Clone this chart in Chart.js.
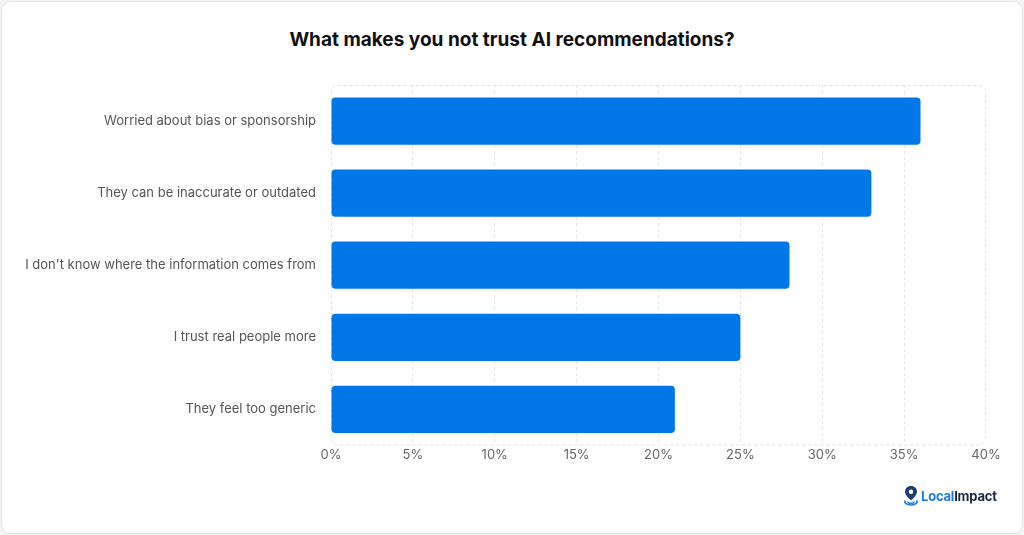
<!DOCTYPE html>
<html>
<head>
<meta charset="utf-8">
<script src="https://cdn.jsdelivr.net/npm/chart.js@4.4.1/dist/chart.umd.min.js"></script>
<style>
  html, body { margin: 0; padding: 0; background: #f4f4f4; }
  .card { position: absolute; left: 1px; top: 1px; width: 1020px; height: 531px; background: #fff; border: 1px solid #e4e4e4; border-radius: 10px; }
  .title { position: absolute; left: 0; top: 28px; width: 1024px; text-align: center; font-family: Inter, "Noto Sans", sans-serif; font-weight: 700; font-size: 19px; color: #111; }
  .wrap { position: absolute; left: 0; top: 0; width: 1024px; height: 535px; }
  .logo { position: absolute; left: 903px; top: 485px; font-family: Inter, "Noto Sans", sans-serif; font-weight: 700; font-size: 13px; letter-spacing: -0.2px; display: flex; align-items: center; }
  .logo .a { color: #1b7ce6; }
  .logo .b { color: #1c2740; }
</style>
</head>
<body>
<div class="card"></div>
<div class="title">What makes you not trust AI recommendations?</div>
<div class="wrap"><canvas id="c" width="1024" height="535"></canvas></div>
<div class="logo">
  <svg width="16" height="22" viewBox="0 0 16 22" style="margin-right:2px">
    <path d="M8 1 C4.3 1 2 3.7 2 6.8 C2 10.5 8 15.5 8 15.5 C8 15.5 14 10.5 14 6.8 C14 3.7 11.7 1 8 1 Z" fill="#1c3d6e"/>
    <circle cx="8" cy="6.8" r="2.2" fill="#fff"/>
    <path d="M2.5 15.5 C1 17 2.5 20 8 20 C13.5 20 15 17 13.5 15.5" fill="none" stroke="#1b7ce6" stroke-width="1.6"/>
    <path d="M5 16.5 C4.5 17.6 6 18.3 8 18.3 C10 18.3 11.5 17.6 11 16.5" fill="none" stroke="#1b7ce6" stroke-width="1.4"/>
  </svg>
  <span class="a">Local</span><span class="b">Impact</span>
</div>
<script>
const categories = [
  'Worried about bias or sponsorship',
  'They can be inaccurate or outdated',
  "I don't know where the information comes from",
  'I trust real people more',
  'They feel too generic'
];
const percentValues = [36, 33, 28, 25, 21];
const axisMax = 40;
const axisStep = 5;

const frameBox = {
  id: 'frameBox',
  beforeDatasetsDraw(chart) {
    const { ctx, chartArea: a } = chart;
    ctx.save();
    ctx.strokeStyle = '#e2e2e2';
    ctx.lineWidth = 1;
    ctx.setLineDash([3, 3]);
    ctx.beginPath();
    ctx.roundRect(a.left + 0.5, a.top + 0.5, a.right - a.left - 1, a.bottom - a.top - 1, 6);
    ctx.stroke();
    ctx.restore();
  }
};

new Chart(document.getElementById('c'), {
  type: 'bar',
  data: {
    labels: categories,
    datasets: [{
      data: percentValues,
      backgroundColor: '#0077e6',
      borderRadius: 4,
      borderSkipped: false,
      barPercentage: 0.655,
      categoryPercentage: 1
    }]
  },
  options: {
    indexAxis: 'y',
    responsive: false,
    animation: false,
    layout: { padding: { top: 85, right: 38, bottom: 70, left: 0 } },
    plugins: { legend: { display: false }, tooltip: { enabled: false } },
    scales: {
      x: {
        min: 0, max: axisMax,
        ticks: {
          stepSize: axisStep,
          padding: 2,
          color: '#666',
          font: { family: 'Inter, "Noto Sans", sans-serif', size: 13 },
          callback: v => v + '%'
        },
        grid: {
          drawTicks: false,
          color: ctx => (ctx.index === 0 || ctx.tick && ctx.tick.value === axisMax) ? 'rgba(0,0,0,0)' : '#e6e6e6'
        },
        border: { display: false, dash: [3, 3] }
      },
      y: {
        afterFit(scale) { scale.width = 331; },
        ticks: {
          padding: 15,
          color: '#555',
          font: { family: 'Inter, "Noto Sans", sans-serif', size: 13 }
        },
        grid: { display: false, drawTicks: false },
        border: { display: false }
      }
    }
  },
  plugins: [frameBox]
});
</script>
</body>
</html>
